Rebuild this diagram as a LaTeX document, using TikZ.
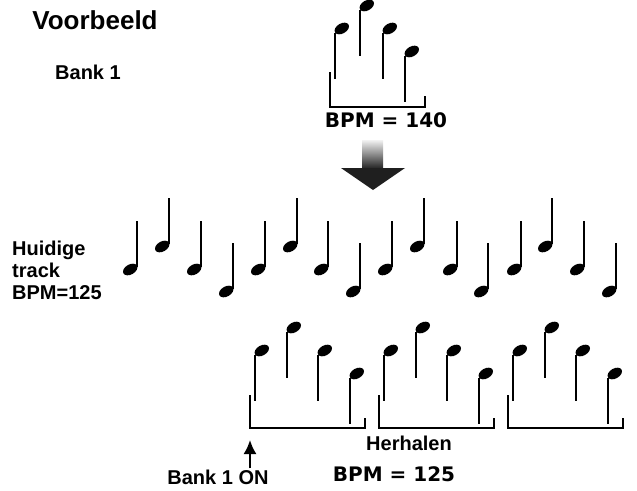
\documentclass[tikz,border=0pt]{standalone}
\usepackage{fontspec}
\setmainfont{Liberation Sans}
\newfontfamily\zwaar{DejaVu Sans}
\usetikzlibrary{arrows.meta, positioning}

% noot met kop onder, stok omhoog
\newcommand{\notaop}[2]{%
  \draw[stok] (#1,#2) -- (#1,#2+46);
  \fill (#1-6.8,#2+48.5) ellipse [x radius=7.8, y radius=5, rotate=30];}
% noot met kop boven, stok omlaag
\newcommand{\notaneer}[2]{%
  \draw[stok] (#1,#2) -- (#1,#2+46);
  \fill (#1+6.8,#2-4.5) ellipse [x radius=7.8, y radius=5, rotate=30];}

\begin{document}
\begin{tikzpicture}[
    x=1pt, y=-1pt,
    font=\bfseries\fontsize{20}{22}\selectfont,
    stok/.style={line width=2.2pt},
    haak/.style={line width=1.6pt},
    tekst/.style={inner sep=1pt},
    bpm/.style={inner sep=1pt, font=\zwaar\bfseries\fontsize{20}{22}\selectfont},
    pijl/.style={-{Latex[length=14pt, width=13pt]}, line width=2pt}
  ]
    \useasboundingbox (0,0) rectangle (637,490);

    % titels
    \node[tekst, font=\bfseries\fontsize{26}{28}\selectfont] (titel) at (95,20) {Voorbeeld};
    \node[tekst] (bank) at (88,72) {Bank 1};
    \node[tekst, anchor=west, align=left] (huidig) at (11,270) {Huidige\\track\\BPM=125};

    % bank 1 bovenaan
    \notaneer{335}{33} \notaneer{360}{10} \notaneer{383}{33} \notaneer{405}{56}
    \draw[haak] (330,72) -- (330,107) -- (425,107) -- (425,96);
    \node[bpm] (bpmboven) at (386,120) {BPM = 140};

    % grote pijl
    \shade[top color=gray!10, bottom color=black!85] (362,140) rectangle (383,168);
    \fill[black!88] (341,168) -- (405,168) -- (373,190) -- cycle;

    % huidige track
    \foreach \x/\t in {137/221,169/198,201/221,233/243,265/221,297/198,328/221,360/243,
                       392/221,424/198,457/221,488/243,521/221,552/198,584/221,616/243}
      {\notaop{\x}{\t}}

    % herhaalde bank
    \foreach \g in {255,384,513} {
      \notaneer{\g}{355} \notaneer{\g+32}{332} \notaneer{\g+63}{355} \notaneer{\g+95}{378}
      \draw[haak] (\g-5,395) -- (\g-5,428) -- (\g+110,428) -- (\g+110,418);
    }
    \coordinate (aan) at (250,440);

    \node[tekst] (herhalen) at (409,443) {Herhalen};
    \node[bpm] (bpmonder) at (394,474) {BPM = 125};
    \node[tekst] (bankaan) at (218,477) {Bank 1 ON};
    \draw[pijl] (bankaan.north -| aan) -- (aan);
  \end{tikzpicture}
\end{document}
